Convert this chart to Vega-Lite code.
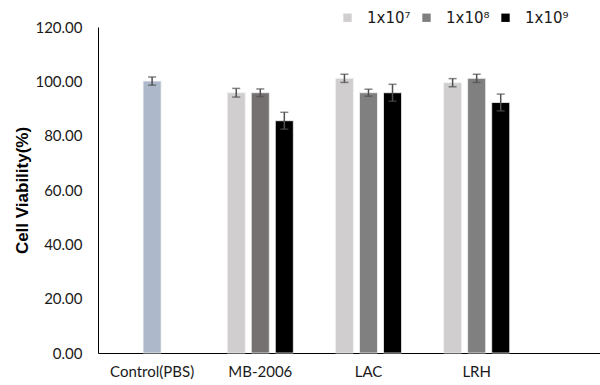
{
  "$schema": "https://vega.github.io/schema/vega-lite/v6.json",
  "autosize": {"type": "none"},
  "padding": {"left": 98, "top": 27, "right": 0, "bottom": 32},
  "width": 502,
  "height": 326,
  "background": "white",
  "config": {
    "view": {"stroke": null},
    "font": "Lato"
  },
  "data": {
    "values": [
      {"treatment": "Control(PBS)", "dose": "1x10⁸", "group": "Control", "value": 100.1, "err": 1.5},
      {"treatment": "MB-2006", "dose": "1x10⁷", "group": "1x10⁷", "value": 95.8, "err": 1.6},
      {"treatment": "MB-2006", "dose": "1x10⁸", "group": "1x10⁸", "value": 95.8, "err": 1.4},
      {"treatment": "MB-2006", "dose": "1x10⁹", "group": "1x10⁹", "value": 85.5, "err": 3.1},
      {"treatment": "LAC", "dose": "1x10⁷", "group": "1x10⁷", "value": 101.1, "err": 1.5},
      {"treatment": "LAC", "dose": "1x10⁸", "group": "1x10⁸", "value": 95.8, "err": 1.3},
      {"treatment": "LAC", "dose": "1x10⁹", "group": "1x10⁹", "value": 95.8, "err": 3.1},
      {"treatment": "LRH", "dose": "1x10⁷", "group": "1x10⁷", "value": 99.5, "err": 1.5},
      {"treatment": "LRH", "dose": "1x10⁸", "group": "1x10⁸", "value": 101.1, "err": 1.5},
      {"treatment": "LRH", "dose": "1x10⁹", "group": "1x10⁹", "value": 92.2, "err": 3.1}
    ]
  },
  "transform": [
    {"calculate": "datum.value - datum.err", "as": "lo"},
    {"calculate": "datum.value + datum.err", "as": "hi"}
  ],
  "encoding": {
    "x": {
      "field": "treatment",
      "type": "nominal",
      "sort": ["Control(PBS)", "MB-2006", "LAC", "LRH"],
      "scale": {"paddingInner": 0, "paddingOuter": 0.32, "align": 0},
      "axis": {
        "title": null,
        "labelAngle": 0,
        "ticks": false,
        "domainColor": "#000000",
        "domainWidth": 1,
        "labelFont": "Lato",
        "labelFontSize": 15,
        "labelColor": "#1a1a1a",
        "labelPadding": 11
      }
    },
    "xOffset": {
      "field": "dose",
      "type": "nominal",
      "sort": ["1x10⁷", "1x10⁸", "1x10⁹"],
      "scale": {"domain": ["1x10⁷", "1x10⁸", "1x10⁹"], "paddingInner": 0.25, "paddingOuter": 0.875}
    }
  },
  "layer": [
    {
      "mark": {"type": "bar", "stroke": "#f2f2f2", "strokeWidth": 0.8},
      "encoding": {
        "y": {
          "field": "value",
          "type": "quantitative",
          "scale": {"domain": [0, 120], "nice": false},
          "axis": {
            "title": "Cell  Viability(%)",
            "titleFont": "Liberation Sans",
            "titleFontSize": 17,
            "titleFontWeight": "bold",
            "titleColor": "#000000",
            "titlePadding": 3,
            "values": [0, 20, 40, 60, 80, 100, 120],
            "format": ".2f",
            "grid": false,
            "ticks": false,
            "domainColor": "#000000",
            "domainWidth": 1,
            "labelFont": "Lato",
            "labelFontSize": 15,
            "labelColor": "#1a1a1a",
            "labelPadding": 16
          }
        },
        "color": {
          "condition": {"test": "datum.treatment === 'MB-2006' && datum.group === '1x10⁸'", "value": "#767171"},
          "field": "group",
          "type": "nominal",
          "scale": {
            "domain": ["1x10⁷", "1x10⁸", "1x10⁹", "Control"],
            "range": ["#d0cece", "#808080", "#000000", "#adb9ca"]
          },
          "legend": {
            "values": ["1x10⁷", "1x10⁸", "1x10⁹"],
            "title": null,
            "orient": "none",
            "direction": "horizontal",
            "legendX": 242,
            "legendY": -17,
            "symbolType": "square",
            "symbolSize": 70,
            "symbolStrokeWidth": 0,
            "labelFont": "DejaVu Sans",
            "labelFontSize": 15,
            "labelColor": "#1a1a1a",
            "columnPadding": 8,
            "labelOffset": 12
          }
        }
      }
    },
    {
      "mark": {"type": "rule", "color": "#505050", "strokeWidth": 1.5},
      "encoding": {
        "y": {"field": "lo", "type": "quantitative"},
        "y2": {"field": "hi"}
      }
    },
    {
      "mark": {"type": "tick", "color": "#505050", "thickness": 1.5, "size": 8},
      "encoding": {"y": {"field": "lo", "type": "quantitative"}}
    },
    {
      "mark": {"type": "tick", "color": "#505050", "thickness": 1.5, "size": 8},
      "encoding": {"y": {"field": "hi", "type": "quantitative"}}
    }
  ]
}
